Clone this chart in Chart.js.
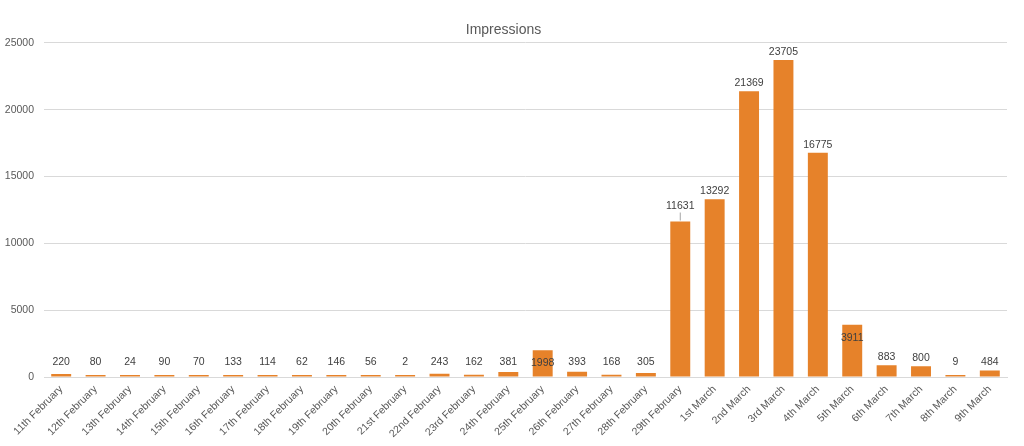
<!DOCTYPE html>
<html>
<head>
<meta charset="utf-8">
<script src="https://cdn.jsdelivr.net/npm/chart.js@4"></script>
<style>
  html, body { margin: 0; padding: 0; background: #fff; }
  #wrap { width: 1024px; height: 446px; }
</style>
</head>
<body>
<div id="wrap"><canvas id="bar"></canvas></div>
<script>
const days = [
  '11th February', '12th February', '13th February', '14th February', '15th February',
  '16th February', '17th February', '18th February', '19th February', '20th February',
  '21st February', '22nd February', '23rd February', '24th February', '25th February',
  '26th February', '27th February', '28th February', '29th February',
  '1st March', '2nd March', '3rd March', '4th March', '5th March',
  '6th March', '7th March', '8th March', '9th March'
];
const impressions = [
  220, 80, 24, 90, 70, 133, 114, 62, 146, 56, 2, 243, 162, 381, 1998,
  393, 168, 305, 11631, 13292, 21369, 23705, 16775, 3911, 883, 800, 9, 484
];
const yTicks = [0, 5000, 10000, 15000, 20000, 25000];

const fontFam = '"Liberation Sans", Arial, sans-serif';

// value labels, drawn like the excel ones
const valueLabels = {
  id: 'valueLabels',
  afterDatasetsDraw(chart) {
    const ctx = chart.ctx;
    const meta = chart.getDatasetMeta(0);
    const base = chart.scales.y.getPixelForValue(0);
    ctx.save();
    ctx.font = '10.5px ' + fontFam;
    ctx.fillStyle = '#404040';
    ctx.textAlign = 'center';
    ctx.textBaseline = 'middle';
    meta.data.forEach((bar, i) => {
      let y = Math.min(bar.y - 8, base - 15);
      if (i === 14 || i === 23) y = bar.y + 13; // sits inside the bar
      if (i === 18) {
        y = bar.y - 15;
        ctx.strokeStyle = '#a6a6a6';
        ctx.lineWidth = 1;
        ctx.beginPath();
        ctx.moveTo(bar.x, y + 6);
        ctx.lineTo(bar.x, bar.y - 1);
        ctx.stroke();
      }
      ctx.fillText(String(impressions[i]), bar.x, y);
    });
    ctx.restore();
  }
};

new Chart(document.getElementById('bar'), {
  type: 'bar',
  data: {
    labels: days,
    datasets: [{
      label: 'Impressions',
      data: impressions,
      backgroundColor: '#e6822a',
      barPercentage: 0.58,
      categoryPercentage: 1,
      minBarLength: 2
    }]
  },
  options: {
    responsive: true,
    maintainAspectRatio: false,
    animation: false,
    layout: { padding: { left: 0, right: 17, top: 0, bottom: 0 } },
    plugins: {
      legend: { display: false },
      tooltip: { enabled: false },
      title: {
        display: true,
        text: 'Impressions',
        color: '#595959',
        font: { family: fontFam, size: 14, weight: 'normal' },
        padding: { top: 22, bottom: 4 }
      }
    },
    scales: {
      x: {
        grid: { display: false, drawTicks: false },
        border: { color: '#d9d9d9' },
        ticks: {
          color: '#595959',
          font: { family: fontFam, size: 10.5 },
          minRotation: 45,
          maxRotation: 45,
          autoSkip: false,
          padding: 6
        },
        afterFit(s) { s.height = 69; }
      },
      y: {
        min: 0,
        max: yTicks[yTicks.length - 1],
        afterBuildTicks(s) { s.ticks = yTicks.map(v => ({ value: v })); },
        grid: { color: '#d9d9d9', drawTicks: false },
        border: { display: false },
        ticks: {
          color: '#595959',
          font: { family: fontFam, size: 10.5 },
          padding: 10,
          callback: v => String(v)
        },
        afterFit(s) { s.width = 44; }
      }
    }
  },
  plugins: [valueLabels]
});
</script>
</body>
</html>
